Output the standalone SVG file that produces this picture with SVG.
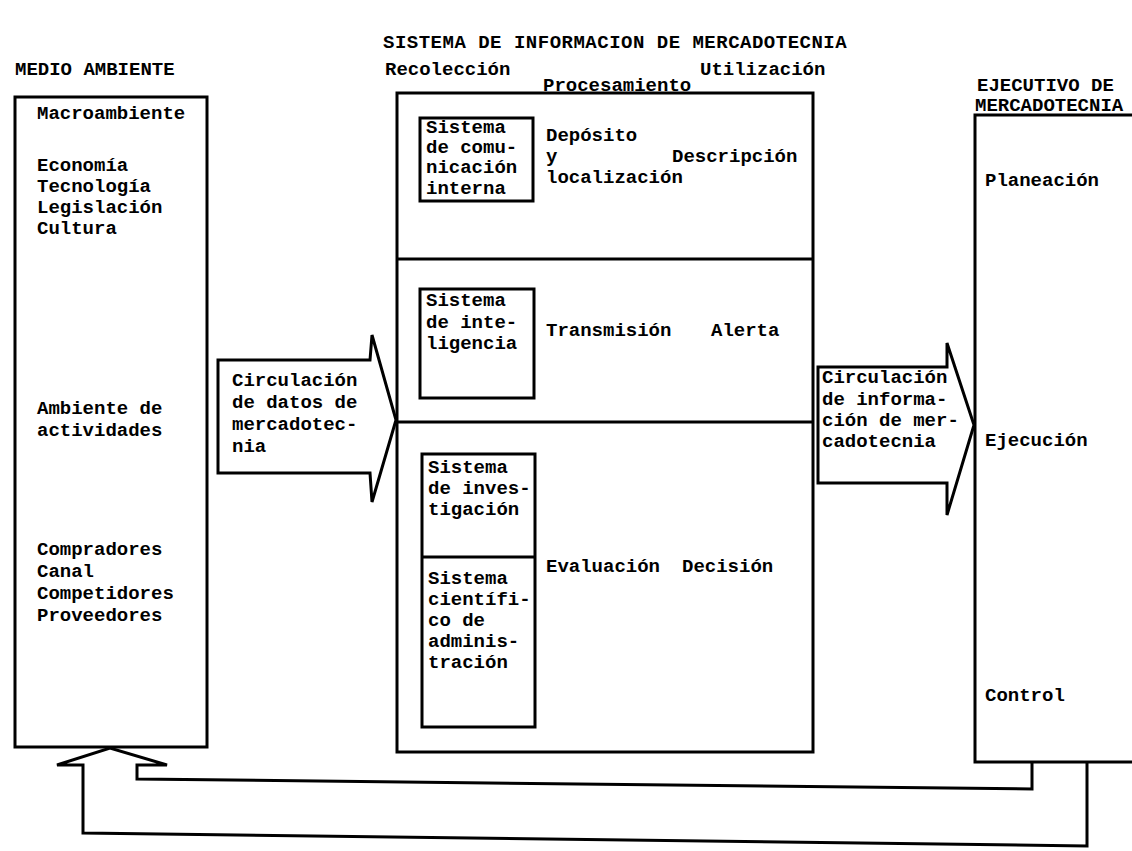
<svg xmlns="http://www.w3.org/2000/svg" width="1132" height="851" viewBox="0 0 1132 851">
<style>
.t{font-family:"Liberation Mono","DejaVu Sans Mono",monospace;font-weight:bold;font-size:19px;fill:#000}
.b{fill:none;stroke:#000;stroke-width:3;stroke-linejoin:miter}
.a{fill:#fff;stroke:#000;stroke-width:3;stroke-linejoin:miter}
</style>
<rect width="1132" height="851" fill="#fff"/>
<text class="t" x="383" y="48" letter-spacing="0.5">SISTEMA DE INFORMACION DE MERCADOTECNIA</text>

<g id="medio-ambiente">
<text class="t" x="15" y="75">MEDIO AMBIENTE</text>
<rect class="b" x="15" y="97" width="192" height="650"/>
<text class="t" x="37" y="119">Macroambiente</text>
<text class="t" x="37" y="171">Economía</text>
<text class="t" x="37" y="192">Tecnología</text>
<text class="t" x="37" y="213">Legislación</text>
<text class="t" x="37" y="234">Cultura</text>
<text class="t" x="37" y="414">Ambiente de</text>
<text class="t" x="37" y="436">actividades</text>
<text class="t" x="37" y="555">Compradores</text>
<text class="t" x="37" y="577">Canal</text>
<text class="t" x="37" y="599">Competidores</text>
<text class="t" x="37" y="621">Proveedores</text>
</g>

<g id="sistema">
<text class="t" x="385" y="75">Recolección</text>
<text class="t" x="700" y="75">Utilización</text>
<text class="t" x="543" y="91">Procesamiento</text>
<rect class="b" x="397" y="93" width="416" height="659"/>
<line class="b" x1="397" y1="259" x2="813" y2="259"/>
<line class="b" x1="397" y1="422" x2="813" y2="422"/>
</g>

<g id="comunicacion-interna">
<rect class="b" x="420" y="118" width="113" height="83"/>
<text class="t" x="426" y="133">Sistema</text>
<text class="t" x="426" y="153">de comu-</text>
<text class="t" x="426" y="173">nicación</text>
<text class="t" x="426" y="194">interna</text>
<text class="t" x="546" y="141">Depósito</text>
<text class="t" x="546" y="162">y</text>
<text class="t" x="672" y="162">Descripción</text>
<text class="t" x="546" y="183">localización</text>
</g>

<g id="inteligencia">
<rect class="b" x="420" y="289" width="114" height="109"/>
<text class="t" x="426" y="306">Sistema</text>
<text class="t" x="426" y="328">de inte-</text>
<text class="t" x="426" y="349">ligencia</text>
<text class="t" x="546" y="336">Transmisión</text>
<text class="t" x="711" y="336">Alerta</text>
</g>

<g id="investigacion">
<rect class="b" x="422" y="454" width="113" height="273"/>
<line class="b" x1="422" y1="557" x2="535" y2="557"/>
<text class="t" x="428" y="473">Sistema</text>
<text class="t" x="428" y="494">de inves-</text>
<text class="t" x="428" y="515">tigación</text>
<text class="t" x="428" y="584">Sistema</text>
<text class="t" x="428" y="605">científi-</text>
<text class="t" x="428" y="626">co de</text>
<text class="t" x="428" y="647">adminis-</text>
<text class="t" x="428" y="668">tración</text>
<text class="t" x="546" y="572">Evaluación</text>
<text class="t" x="682" y="572">Decisión</text>
</g>

<g id="ejecutivo">
<text class="t" x="977" y="91">EJECUTIVO DE</text>
<text class="t" x="975" y="111">MERCADOTECNIA</text>
<path class="b" d="M1135,115 H975 V762 H1135"/>
<text class="t" x="985" y="186">Planeación</text>
<text class="t" x="985" y="446">Ejecución</text>
<text class="t" x="985" y="701">Control</text>
</g>

<g id="connectors">
<g id="flujo-datos">
<polygon class="a" points="218,360 370,360 372,335 396,420 372,502 370,473 218,473"/>
<text class="t" x="232" y="386">Circulación</text>
<text class="t" x="232" y="408">de datos de</text>
<text class="t" x="232" y="430">mercadotec-</text>
<text class="t" x="232" y="452">nia</text>
</g>
<g id="flujo-informacion">
<polygon class="a" points="818,367 947,367 947,343 974,425 947,515 947,483 818,483"/>
<text class="t" x="822" y="383">Circulación</text>
<text class="t" x="822" y="405">de informa-</text>
<text class="t" x="822" y="426">ción de mer-</text>
<text class="t" x="822" y="447">cadotecnia</text>
</g>
<path id="retroalimentacion" class="b" d="M1032,762 V789 L137,779 V765 H167 L110,748 L57,765 H83 V833 L1087,846 V762"/>
</g>
</svg>
